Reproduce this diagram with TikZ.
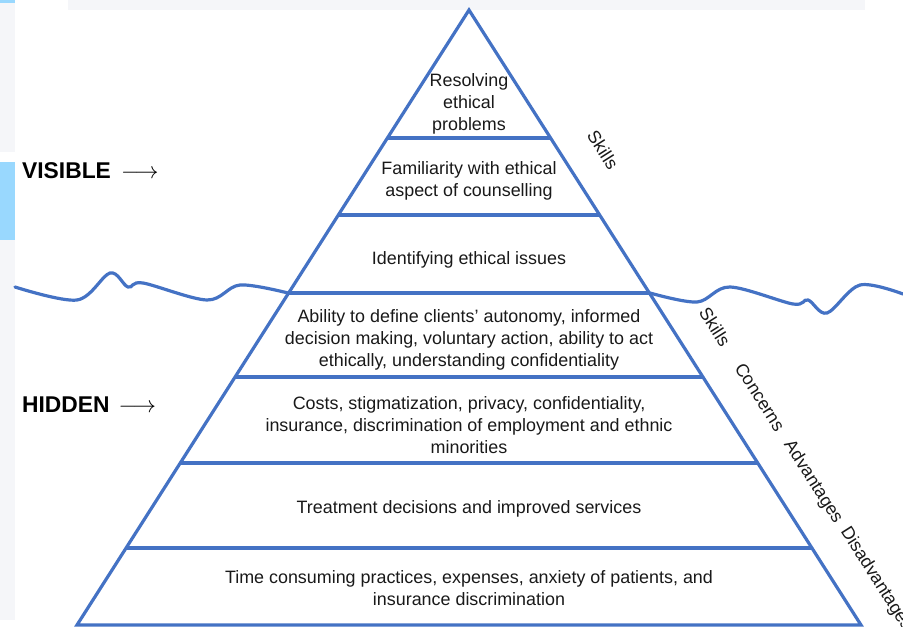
\documentclass[tikz,border=0pt]{standalone}
\usepackage{fontspec}
\setmainfont{Liberation Sans}
\usetikzlibrary{calc,positioning}
\definecolor{pyrblue}{RGB}{68,114,196}
\definecolor{pagegray}{RGB}{245,246,249}
\definecolor{tabblue}{RGB}{153,216,254}
\tikzset{
  tier/.style={line width=3.2pt, pyrblue},
  wave/.style={line width=3.2pt, pyrblue, line cap=round},
  tiertext/.style={align=center, text=black!90, font=\fontsize{17.9}{22}\selectfont},
  sidetext/.style={rotate=-57.5, text=black!90, font=\fontsize{17.9}{22}\selectfont, inner sep=0pt},
  levellabel/.style={anchor=west, inner sep=0pt, font=\fontsize{22.8}{27}\selectfont\bfseries},
}

\begin{document}
\begin{tikzpicture}[x=1pt,y=-1pt]
\useasboundingbox (0,0) rectangle (903,627);

% bits of the page behind the figure
\fill[pagegray] (0,3) rectangle (15,152);
\fill[pagegray] (0,240) rectangle (15,620);
\fill[tabblue] (0,0) rectangle (15,3);
\fill[tabblue] (0,162) rectangle (15,240);
\fill[pagegray] (68,0) rectangle (865,10);

% pyramid and its tiers
\coordinate (apex) at (469,10);
\coordinate (bl) at (77,625);
\coordinate (br) at (861,625);
\draw[tier, line join=miter] (bl) -- (apex) -- (br) -- cycle;
\foreach \t in {0.2081,0.3333,0.4602,0.5967,0.7366,0.8748}
  \draw[tier] ($(apex)!\t!(bl)$) -- ($(apex)!\t!(br)$);

% water line
\draw[wave] plot[smooth, tension=0.55] coordinates {(15,287) (77,300) (110,273) (128,287) (143,283) (207,300) (240,285) (288,293)};
\draw[wave] plot[smooth, tension=0.55] coordinates {(650,293) (697,302) (730,287) (793,304) (808,300) (827,313) (860,285) (903,294)};

% tier texts
\node[tiertext] (resolving) at (469,104) {Resolving\\ethical\\problems};
\node[tiertext] (familiarity) at (469,181) {Familiarity with ethical\\aspect of counselling};
\node[tiertext] (identifying) at (469,260) {Identifying ethical issues};
\node[tiertext] (ability) at (469,340) {Ability to define clients’ autonomy, informed\\decision making, voluntary action, ability to act\\ethically, understanding confidentiality};
\node[tiertext] (costs) at (469,425) {Costs, stigmatization, privacy, confidentiality,\\insurance, discrimination of employment and ethnic\\minorities};
\node[tiertext] (treatment) at (469,509) {Treatment decisions and improved services};
\node[tiertext] (timecons) at (469,588) {Time consuming practices, expenses, anxiety of patients, and\\insurance discrimination};

% labels along the right side
\node[sidetext] (skillsvis) at (603,150) {Skills};
\node[sidetext] (skillshid) at (715,327) {Skills};
\node[sidetext] (concerns) at (760,397) {Concerns};
\node[sidetext] (advantages) at (813,482) {Advantages};
\node[sidetext] (disadvantages) at (876,579) {Disadvantages};

% visible / hidden
\node[levellabel] (visible) at (22,171) {VISIBLE\hspace{0.45em}\scalebox{1.12}{$\longrightarrow$}};
\node[levellabel] (hidden) at (22,405) {HIDDEN\hspace{0.4em}\scalebox{1.12}{$\longrightarrow$}};

\end{tikzpicture}
\end{document}
